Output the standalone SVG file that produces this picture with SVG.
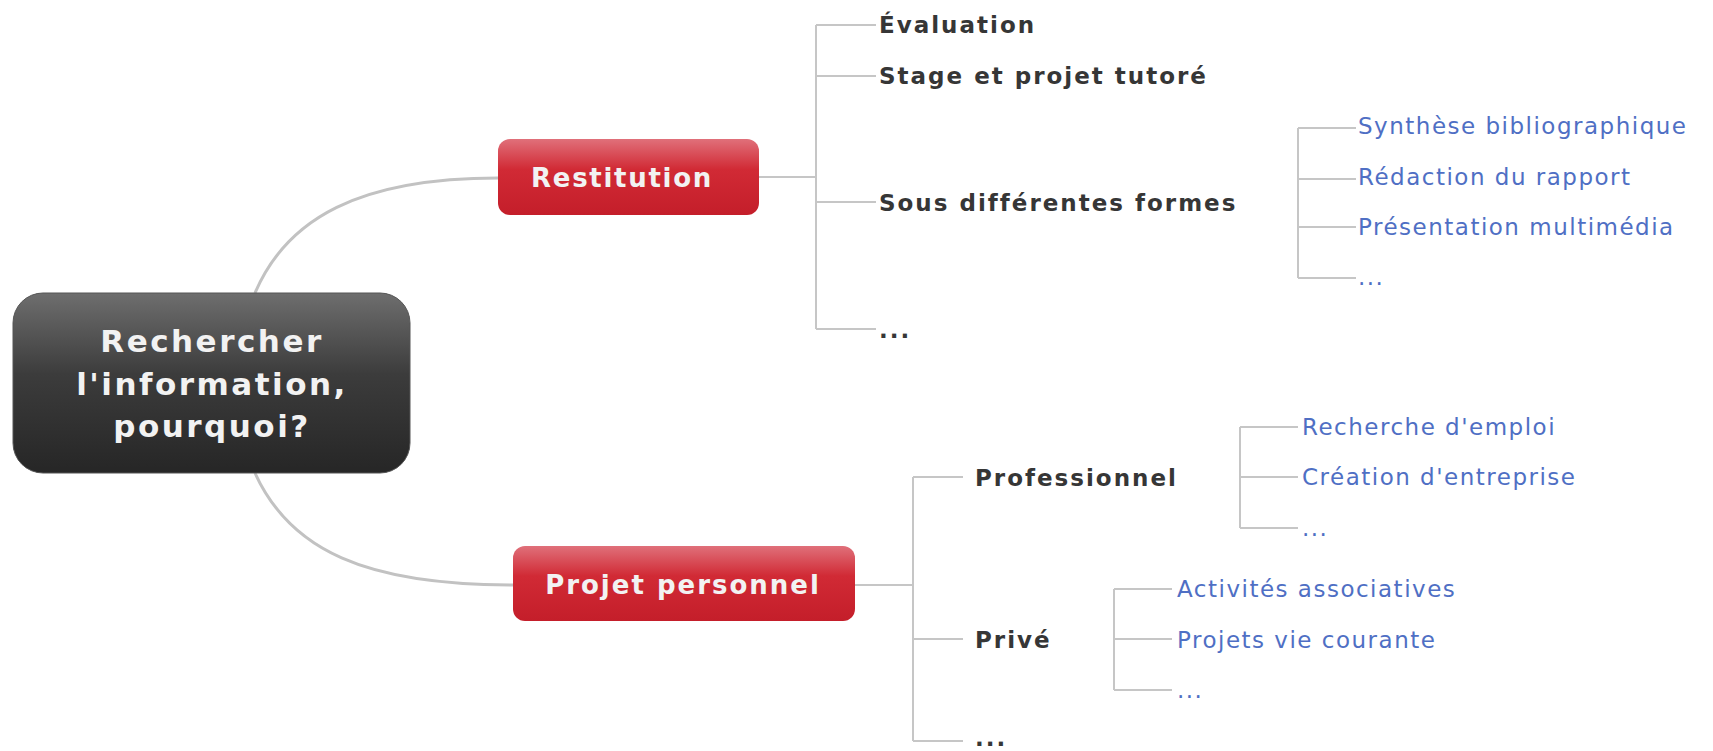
<svg xmlns="http://www.w3.org/2000/svg" width="1713" height="751" viewBox="0 0 1713 751">
<defs>
<linearGradient id="gCentral" x1="0" y1="0" x2="0" y2="1">
<stop offset="0" stop-color="#6e6e6e"/>
<stop offset="0.45" stop-color="#3c3c3c"/>
<stop offset="1" stop-color="#262626"/>
</linearGradient>
<linearGradient id="gRed" x1="0" y1="0" x2="0" y2="1">
<stop offset="0" stop-color="#e0707a"/>
<stop offset="0.4" stop-color="#d12a35"/>
<stop offset="1" stop-color="#c41e2a"/>
</linearGradient>
</defs>
<style>
.conn{fill:none;stroke:#c6c6c6;stroke-width:2}
.curve{fill:none;stroke:#c2c2c2;stroke-width:3}
.t1{font-family:"DejaVu Sans",Verdana,sans-serif;font-weight:bold;fill:#f2f2f2}
.t2{font-family:"DejaVu Sans",Verdana,sans-serif;font-weight:bold;fill:#363636;font-size:23px;letter-spacing:2px}
.t3{font-family:"DejaVu Sans",Verdana,sans-serif;fill:#4f6fc4;font-size:23px;letter-spacing:1.5px}
</style>
<rect width="1713" height="751" fill="#ffffff"/>
<g id="connectors">
<path class="curve" d="M255 293 C287 218 360 178 498 178"/>
<path class="curve" d="M255 473 C290 550 365 585 513 585"/>
<path class="conn" d="M759 177 H816 M816 25 V329 M816 25 H876 M816 76 H876 M816 202 H876 M816 329 H876"/>
<path class="conn" d="M1298 128 V278 M1298 128 H1356 M1298 179 H1356 M1298 227 H1356 M1298 278 H1356"/>
<path class="conn" d="M855 585 H913 M913 477 V741 M913 477 H963 M913 639 H963 M913 741 H963"/>
<path class="conn" d="M1240 427 V528 M1240 427 H1298 M1240 477 H1298 M1240 528 H1298"/>
<path class="conn" d="M1114 589 V690 M1114 589 H1172 M1114 639 H1172 M1114 690 H1172"/>
</g>
<g id="central">
<rect x="13" y="293" width="397" height="180" rx="30" fill="url(#gCentral)" stroke="#555" stroke-width="1"/>
<text class="t1" font-size="31" letter-spacing="2.5" text-anchor="middle" x="212" y="352">Rechercher</text>
<text class="t1" font-size="31" letter-spacing="2.5" text-anchor="middle" x="212" y="395">l'information,</text>
<text class="t1" font-size="31" letter-spacing="2.5" text-anchor="middle" x="212" y="437">pourquoi?</text>
</g>
<g id="restitution">
<rect x="498" y="139" width="261" height="76" rx="12" fill="url(#gRed)"/>
<text class="t1" font-size="26" letter-spacing="1.7" text-anchor="middle" x="622" y="187">Restitution</text>
</g>
<g id="projet">
<rect x="513" y="546" width="342" height="75" rx="12" fill="url(#gRed)"/>
<text class="t1" font-size="26" letter-spacing="2" text-anchor="middle" x="683" y="594">Projet personnel</text>
</g>
<g id="evaluation"><text class="t2" x="879" y="33">Évaluation</text></g>
<g id="stage"><text class="t2" x="879" y="84">Stage et projet tutoré</text></g>
<g id="sous"><text class="t2" x="879" y="211">Sous différentes formes</text></g>
<g id="etc1"><text class="t2" x="879" y="338">...</text></g>
<g id="synthese"><text class="t3" x="1358" y="134">Synthèse bibliographique</text></g>
<g id="redaction"><text class="t3" x="1358" y="185">Rédaction du rapport</text></g>
<g id="presentation"><text class="t3" x="1358" y="235">Présentation multimédia</text></g>
<g id="etc2"><text class="t3" x="1358" y="285">...</text></g>
<g id="professionnel"><text class="t2" x="975" y="486">Professionnel</text></g>
<g id="prive"><text class="t2" x="975" y="648">Privé</text></g>
<g id="etc3"><text class="t2" x="975" y="746">...</text></g>
<g id="emploi"><text class="t3" x="1302" y="435">Recherche d'emploi</text></g>
<g id="creation"><text class="t3" x="1302" y="485">Création d'entreprise</text></g>
<g id="etc4"><text class="t3" x="1302" y="536">...</text></g>
<g id="activites"><text class="t3" x="1177" y="597">Activités associatives</text></g>
<g id="projets"><text class="t3" x="1177" y="648">Projets vie courante</text></g>
<g id="etc5"><text class="t3" x="1177" y="698">...</text></g>
</svg>
